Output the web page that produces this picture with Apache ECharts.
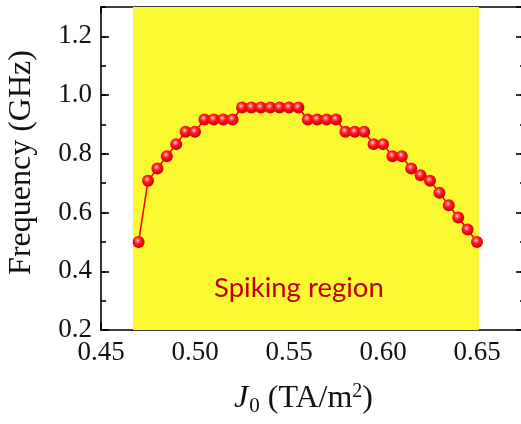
<!DOCTYPE html>
<html>
<head>
<meta charset="utf-8">
<script src="https://cdn.jsdelivr.net/npm/echarts@6/dist/echarts.min.js"></script>
<style>html,body{margin:0;padding:0;background:#fff}#c{width:521px;height:424px}</style>
</head>
<body>
<div id="c"></div>
<script>
// Data
var currentDensity = [0.470,0.475,0.480,0.485,0.490,0.495,0.500,0.505,0.510,0.515,0.520,0.525,0.530,0.535,0.540,0.545,0.550,0.555,0.560,0.565,0.570,0.575,0.580,0.585,0.590,0.595,0.600,0.605,0.610,0.615,0.620,0.625,0.630,0.635,0.640,0.645,0.650];
var frequency = [0.500,0.708,0.750,0.792,0.833,0.875,0.875,0.917,0.917,0.917,0.917,0.958,0.958,0.958,0.958,0.958,0.958,0.958,0.917,0.917,0.917,0.917,0.875,0.875,0.875,0.833,0.833,0.792,0.792,0.750,0.727,0.708,0.667,0.625,0.583,0.542,0.500];
var spikingRegion = [0.467, 0.651];
var regionLabel = 'Spiking region';
var xTickLabels = ['0.45','0.50','0.55','0.60','0.65'];
var yTickLabels = ['0.2','0.4','0.6','0.8','1.0','1.2'];

var XMIN = 0.45, XMAX = 0.675, YMIN = 0.2, YMAX = 1.3;
var SERIF = 'Liberation Serif';
var AX = {color:'#000', width:1.6};

function fmtX(v){ var s=v.toFixed(2); return xTickLabels.indexOf(s)>=0 ? s : ''; }
function fmtY(v){ var s=v.toFixed(1); return yTickLabels.indexOf(s)>=0 ? s : ''; }

var chart = echarts.init(document.getElementById('c'), null, {renderer:'canvas'});
chart.setOption({
  animation:false,
  backgroundColor:'#fff',
  grid:{left:101, top:7, width:423, height:323, containLabel:false, outerBoundsMode:'none'},
  xAxis:[
    {type:'value', position:'bottom', min:XMIN, max:XMAX, interval:0.05,
     axisLine:{show:true, lineStyle:AX}, axisTick:{inside:true, length:8, lineStyle:AX},
     splitLine:{show:false},
     axisLabel:{formatter:fmtX, showMaxLabel:false, fontFamily:SERIF, fontSize:27, color:'#111', margin:9},
     name:'{j|J}{s|0}{n| (TA/m}{p|2}{n|)}', nameLocation:'middle', nameGap:50,
     nameTextStyle:{padding:[0,18,0,0], rich:{
       j:{fontFamily:SERIF, fontStyle:'italic', fontSize:32, color:'#111', lineHeight:38, verticalAlign:'middle'},
       s:{fontFamily:SERIF, fontSize:21, color:'#111', padding:[14,0,0,1]},
       n:{fontFamily:SERIF, fontSize:32, color:'#111', lineHeight:38},
       p:{fontFamily:SERIF, fontSize:20, color:'#111', padding:[0,0,14,0]}
     }}},
    {type:'value', position:'bottom', min:XMIN, max:XMAX, interval:0.025,
     axisLine:{show:false}, axisTick:{inside:true, length:4, lineStyle:AX},
     axisLabel:{show:false}, splitLine:{show:false}},
    {type:'value', position:'top', min:XMIN, max:XMAX, interval:0.025,
     axisLine:{show:true, lineStyle:AX}, axisTick:{inside:true, length:6, lineStyle:AX},
     axisLabel:{show:false}, splitLine:{show:false}}
  ],
  yAxis:[
    {type:'value', position:'left', min:YMIN, max:YMAX, interval:0.2,
     axisLine:{show:true, lineStyle:AX}, axisTick:{inside:true, length:8, lineStyle:AX},
     splitLine:{show:false},
     axisLabel:{formatter:fmtY, showMaxLabel:false, fontFamily:SERIF, fontSize:27, color:'#111', margin:9},
     name:'Frequency (GHz)', nameLocation:'middle', nameGap:63,
     nameTextStyle:{fontFamily:SERIF, fontSize:32, color:'#111', padding:[0,0,0,12]}},
    {type:'value', position:'left', min:YMIN, max:YMAX, interval:0.1,
     axisLine:{show:false}, axisTick:{inside:true, length:5, lineStyle:AX},
     axisLabel:{show:false}, splitLine:{show:false}},
    {type:'value', position:'right', min:YMIN, max:YMAX, interval:0.2,
     axisLine:{show:true, lineStyle:AX}, axisTick:{inside:true, length:8, lineStyle:AX},
     axisLabel:{show:false}, splitLine:{show:false}},
    {type:'value', position:'right', min:YMIN, max:YMAX, interval:0.1,
     axisLine:{show:false}, axisTick:{inside:true, length:4, lineStyle:AX},
     axisLabel:{show:false}, splitLine:{show:false}}
  ],
  series:[{
    type:'line', xAxisIndex:0, yAxisIndex:0,
    data: currentDensity.map(function(x,i){return [x, frequency[i]];}),
    lineStyle:{color:'#ee0000', width:1.5},
    symbol:'circle', symbolSize:12,
    itemStyle:{color:{type:'radial', x:0.42, y:0.38, r:0.62, colorStops:[
      {offset:0, color:'#ffe0e6'}, {offset:0.22, color:'#ff6070'},
      {offset:0.5, color:'#ff1010'}, {offset:1, color:'#c80000'}]}, borderWidth:0},
    markArea:{silent:true, itemStyle:{color:'#fbf932'},
      label:{show:true, position:'insideBottom', distance:28, offset:[-7,0],
        formatter:regionLabel, fontFamily:'Lato', fontSize:27.5, color:'#c00000'},
      data:[[{xAxis:spikingRegion[0]},{xAxis:spikingRegion[1]}]]}
  }]
});
</script>
</body>
</html>
